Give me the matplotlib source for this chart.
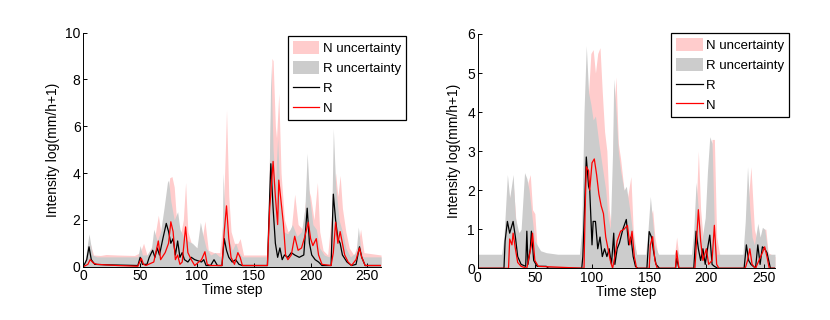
import matplotlib
matplotlib.use('Agg')
import matplotlib.pyplot as plt
from matplotlib.patches import Patch
from matplotlib.lines import Line2D

plt.rcParams['font.family'] = ['Liberation Sans', 'DejaVu Sans']

# ---- left panel (time steps) ----
left_Rup_t = [0, 2, 5, 8, 12, 48, 50, 52, 56, 60, 62, 65, 68, 71, 74, 75, 77, 80, 83, 85, 88, 92, 96, 100,
              103, 105, 108, 112, 116, 120, 122, 123, 124, 126, 128, 131, 134, 137, 140, 162, 163, 165, 167,
              169, 171, 173, 176, 180, 184, 188, 192, 195, 197, 199, 202, 205, 208, 212, 216, 218, 220, 222,
              225, 228, 231, 235, 240, 242, 244, 246, 250, 262]
left_Rup = [0, 0.42, 1.4, 0.5, 0.42, 0.42, 0.9, 0.5, 0.5, 0.8, 1.6, 1.1, 1.5, 2.5, 3.6, 3.7, 2.8, 2.0, 2.35,
            1.6, 1.3, 1.1, 1.0, 0.8, 1.9, 1.4, 0.8, 0.5, 0.6, 0.42, 0.5, 4.0, 2.8, 1.8, 1.2, 0.7, 1.0, 0.6,
            0.42, 0.42, 2.0, 8.6, 5.0, 3.5, 5.5, 3.0, 1.5, 1.4, 1.8, 1.3, 1.5, 2.5, 4.85, 3.0, 1.8, 1.6, 0.8,
            0.5, 0.42, 0.5, 5.9, 3.5, 2.0, 1.5, 0.8, 0.42, 0.6, 1.7, 0.8, 0.42, 0.42, 0.42]

left_Nup_t = [0, 3, 6, 9, 15, 20, 30, 45, 50, 53, 56, 62, 66, 69, 73, 76, 78, 80, 82, 85, 88, 90, 92, 95,
              100, 104, 107, 110, 115, 120, 123, 125, 126, 128, 130, 133, 136, 138, 141, 162, 164, 166, 167,
              169, 170, 172, 174, 177, 180, 183, 186, 189, 193, 197, 200, 203, 206, 208, 211, 215, 219, 222,
              224, 226, 228, 231, 234, 238, 242, 244, 247, 262]
left_Nup = [0, 0.5, 1.0, 0.5, 0.48, 0.52, 0.5, 0.48, 0.6, 1.0, 0.5, 1.0, 2.2, 1.2, 2.0, 3.8, 3.85, 3.4, 2.0,
            1.2, 2.0, 3.6, 1.5, 1.0, 0.8, 1.0, 1.95, 0.7, 0.6, 0.6, 2.0, 5.0, 6.7, 3.0, 1.5, 1.0, 1.0, 1.2,
            0.5, 0.5, 5.0, 8.9, 8.8, 6.0, 5.5, 7.4, 4.0, 2.0, 1.5, 1.6, 3.1, 1.8, 1.6, 3.5, 3.0, 2.0, 3.6,
            1.5, 0.7, 0.5, 2.5, 4.0, 3.0, 3.9, 2.5, 1.5, 0.8, 0.5, 1.0, 1.6, 0.6, 0.5]

left_R_t = [0, 3, 5, 7, 10, 20, 48, 50, 52, 56, 58, 61, 63, 65, 67, 70, 73, 75, 77, 79, 81, 83, 85, 87, 89,
            92, 95, 98, 101, 104, 106, 108, 112, 115, 118, 122, 124, 126, 128, 131, 134, 137, 140, 162, 164,
            165, 167, 169, 171, 173, 175, 177, 180, 183, 186, 190, 194, 197, 199, 201, 204, 207, 210, 218,
            220, 222, 224, 226, 228, 232, 236, 240, 243, 245, 248, 262]
left_R = [0, 0.3, 0.85, 0.3, 0.1, 0.08, 0.05, 0.4, 0.1, 0.1, 0.4, 0.7, 0.4, 0.8, 0.5, 1.2, 1.85, 1.5, 1.0,
          1.2, 0.5, 1.1, 0.4, 0.6, 0.3, 0.2, 0.4, 0.3, 0.25, 0.2, 0.3, 0.05, 0.05, 0.3, 0.05, 0.05, 1.2, 0.7,
          0.4, 0.2, 0.3, 0.1, 0.05, 0.05, 3.0, 4.4, 2.5, 1.0, 0.4, 0.8, 0.3, 0.5, 0.4, 0.6, 0.5, 0.4, 0.5,
          2.5, 1.0, 0.5, 0.3, 0.2, 0.05, 0.05, 3.1, 2.0, 1.2, 1.0, 0.5, 0.2, 0.05, 0.1, 0.85, 0.4, 0.05, 0.05]

left_N_t = [0, 4, 6, 9, 12, 30, 48, 51, 53, 55, 62, 66, 68, 72, 75, 77, 79, 81, 83, 85, 87, 90, 92, 95, 98,
            104, 107, 109, 112, 122, 124, 126, 128, 130, 133, 136, 138, 140, 162, 164, 167, 169, 171, 172,
            174, 176, 178, 180, 183, 186, 189, 192, 195, 198, 200, 202, 205, 207, 210, 218, 220, 222, 224,
            226, 228, 230, 233, 236, 240, 243, 245, 248, 262]
left_N = [0, 0.1, 0.3, 0.15, 0.1, 0.05, 0.02, 0.36, 0.1, 0.05, 0.2, 1.1, 0.3, 0.6, 1.0, 1.92, 1.5, 0.3, 0.5,
          0.1, 0.2, 1.7, 0.6, 0.3, 0.05, 0.3, 0.64, 0.1, 0.05, 0.05, 1.5, 2.6, 1.2, 0.4, 0.1, 0.6, 0.4, 0.05,
          0.05, 2.5, 4.5, 3.0, 1.8, 3.7, 2.8, 1.86, 0.5, 0.3, 0.5, 1.3, 0.7, 0.8, 1.3, 1.9, 1.2, 0.9, 1.2,
          0.5, 0.1, 0.05, 0.6, 1.9, 1.0, 1.5, 1.0, 0.5, 0.2, 0.05, 0.3, 0.8, 0.4, 0.05, 0.05]

# ---- right panel ----
right_Rup_t = [0, 21, 23, 26, 28, 31, 33, 36, 38, 41, 43, 45, 48, 50, 55, 60, 70, 89, 91, 93, 95, 97, 99,
               101, 103, 106, 109, 112, 114, 116, 118, 119, 121, 123, 125, 128, 130, 133, 136, 139, 147, 149,
               151, 153, 155, 158, 172, 174, 176, 187, 189, 191, 193, 196, 199, 201, 203, 205, 207, 209, 232,
               234, 236, 238, 240, 242, 245, 247, 249, 251, 254, 260]
right_Rup = [0.36, 0.36, 0.8, 2.4, 1.8, 2.4, 1.3, 0.9, 1.0, 2.45, 2.3, 2.0, 1.2, 0.7, 0.45, 0.4, 0.36, 0.36,
             1.0, 4.0, 5.7, 4.5, 4.2, 3.8, 3.9, 3.2, 2.6, 2.0, 1.3, 1.0, 3.0, 4.85, 4.0, 3.0, 2.5, 2.0, 2.1,
             1.5, 0.8, 0.36, 0.36, 1.0, 1.84, 1.2, 0.6, 0.36, 0.36, 0.5, 0.36, 0.36, 1.0, 2.2, 1.5, 0.7, 1.3,
             2.5, 3.37, 3.2, 1.0, 0.36, 0.36, 1.2, 2.6, 1.5, 0.8, 0.6, 1.15, 0.8, 1.05, 1.0, 0.36, 0.36]

right_Nup_t = [0, 26, 28, 31, 34, 40, 44, 46, 48, 50, 52, 60, 91, 94, 97, 99, 101, 103, 105, 107, 109, 111,
               113, 115, 117, 119, 121, 123, 125, 128, 131, 134, 136, 139, 148, 150, 153, 155, 158, 172, 174,
               176, 188, 191, 193, 195, 198, 200, 203, 205, 207, 209, 212, 234, 236, 239, 242, 246, 249, 252,
               254, 260]
right_Nup = [0.3, 0.3, 1.8, 2.2, 1.0, 0.8, 2.2, 2.4, 1.5, 1.4, 0.5, 0.3, 0.3, 2.0, 4.5, 5.5, 5.6, 5.0, 5.5,
             5.65, 4.5, 3.5, 3.0, 1.5, 1.0, 4.0, 4.9, 3.2, 2.8, 2.0, 1.8, 2.35, 1.0, 0.3, 0.3, 1.2, 1.5, 0.8,
             0.3, 0.3, 0.8, 0.3, 0.3, 1.5, 3.0, 1.5, 0.5, 1.2, 2.0, 3.3, 3.3, 0.8, 0.3, 0.3, 1.5, 2.6, 1.0,
             0.5, 1.0, 1.0, 0.4, 0.3]

right_R_t = [0, 23, 24, 26, 28, 30, 31, 33, 35, 38, 42, 43, 44, 46, 47, 49, 52, 60, 62, 91, 92, 94, 95, 97,
             98, 100, 101, 103, 105, 107, 109, 111, 113, 115, 117, 119, 120, 122, 124, 127, 130, 132, 134,
             136, 138, 140, 148, 150, 152, 154, 156, 159, 173, 174, 176, 189, 191, 193, 195, 197, 199, 201,
             203, 205, 207, 210, 233, 235, 237, 239, 243, 245, 247, 249, 251, 253, 256, 260]
right_R = [0, 0, 0.7, 1.2, 0.9, 1.1, 1.2, 0.8, 0.3, 0.1, 0.05, 0.95, 0.1, 0.5, 0.95, 0.2, 0.05, 0.05, 0, 0,
           0.3, 2.0, 2.85, 2.1, 2.0, 0.6, 1.2, 1.2, 0.5, 0.8, 0.3, 0.5, 0.3, 0.5, 0.1, 0.9, 0.1, 0.5, 0.65,
           1.0, 1.25, 0.6, 0.8, 0.3, 0.05, 0, 0, 0.94, 0.8, 0.4, 0.1, 0, 0, 0.25, 0, 0, 0.95, 0.5, 0.2, 0.5,
           0.1, 0.5, 0.85, 0.1, 0.05, 0, 0, 0.6, 0.2, 0.1, 0, 0.6, 0.1, 0.55, 0.5, 0.4, 0, 0]

right_N_t = [0, 27, 28, 30, 31, 33, 35, 38, 43, 45, 47, 48, 50, 53, 93, 94, 95, 97, 98, 100, 102, 104, 106,
             108, 110, 112, 114, 116, 118, 120, 122, 125, 128, 131, 133, 135, 137, 139, 150, 151, 153, 155,
             157, 173, 174, 176, 190, 193, 195, 197, 200, 202, 205, 207, 209, 211, 234, 236, 238, 240, 243,
             246, 249, 251, 253, 255, 260]
right_N = [0, 0, 0.75, 0.6, 0.9, 0.5, 0.15, 0.05, 0, 0.3, 0.6, 0.9, 0.2, 0.05, 0, 1.5, 2.6, 2.5, 2.0, 2.7,
           2.8, 2.4, 1.9, 1.6, 1.4, 0.8, 0.5, 0.2, 0, 0.3, 0.7, 0.95, 1.0, 1.1, 0.6, 0.95, 0.3, 0, 0, 0.6,
           0.81, 0.2, 0, 0, 0.45, 0, 0, 1.5, 0.7, 0.2, 0.5, 0.1, 0.2, 1.1, 0.1, 0, 0, 0.2, 0.5, 0.1, 0, 0.2,
           0.4, 0.55, 0.3, 0, 0]

pink = '#ffcccc'
grey = '#cccccc'


def draw(ax, Nup_t, Nup, Rup_t, Rup, R_t, R, N_t, N, xmax, ymax, yticks, anchor):
    ax.fill_between(Nup_t, 0, Nup, color=pink, lw=0)
    ax.fill_between(Rup_t, 0, Rup, color=grey, lw=0)
    ax.plot(R_t, R, color='k', lw=0.9)
    ax.plot(N_t, N, color='r', lw=0.9)
    ax.set_xlim(0, xmax)
    ax.set_ylim(0, ymax)
    ax.set_xticks([0, 50, 100, 150, 200, 250])
    ax.set_yticks(yticks)
    ax.spines['top'].set_visible(False)
    ax.spines['right'].set_visible(False)
    for s in ('left', 'bottom'):
        ax.spines[s].set_linewidth(0.7)
    ax.tick_params(direction='in', length=3, width=0.7, labelsize=10, pad=2)
    ax.set_xlabel('Time step', fontsize=10, labelpad=0)
    ax.set_ylabel('Intensity log(mm/h+1)', fontsize=10, labelpad=4)
    handles = [Patch(color=pink, lw=0), Patch(color=grey, lw=0),
               Line2D([], [], color='k', lw=0.9), Line2D([], [], color='r', lw=0.9)]
    leg = ax.legend(handles, ['N uncertainty', 'R uncertainty', 'R', 'N'],
                    loc='upper right', bbox_to_anchor=anchor, fontsize=9.5,
                    fancybox=False, framealpha=1, edgecolor='k', borderaxespad=0,
                    borderpad=0.4, handlelength=2.0, handleheight=1.15,
                    handletextpad=0.25, labelspacing=0.45)
    leg.get_frame().set_linewidth(0.9)


fig = plt.figure(figsize=(8.3, 3.2), dpi=100)
ax1 = fig.add_axes([0.1004, 0.1666, 0.3587, 0.7313])
ax2 = fig.add_axes([0.5755, 0.1616, 0.3582, 0.7322])

draw(ax1, left_Nup_t, left_Nup, left_Rup_t, left_Rup, left_R_t, left_R, left_N_t, left_N,
     262, 10, [0, 2, 4, 6, 8, 10], (1.084, 0.986))
draw(ax2, right_Nup_t, right_Nup, right_Rup_t, right_Rup, right_R_t, right_R, right_N_t, right_N,
     260, 6, [0, 1, 2, 3, 4, 5, 6], (1.048, 1.005))

fig.savefig('out.png', dpi=100)
